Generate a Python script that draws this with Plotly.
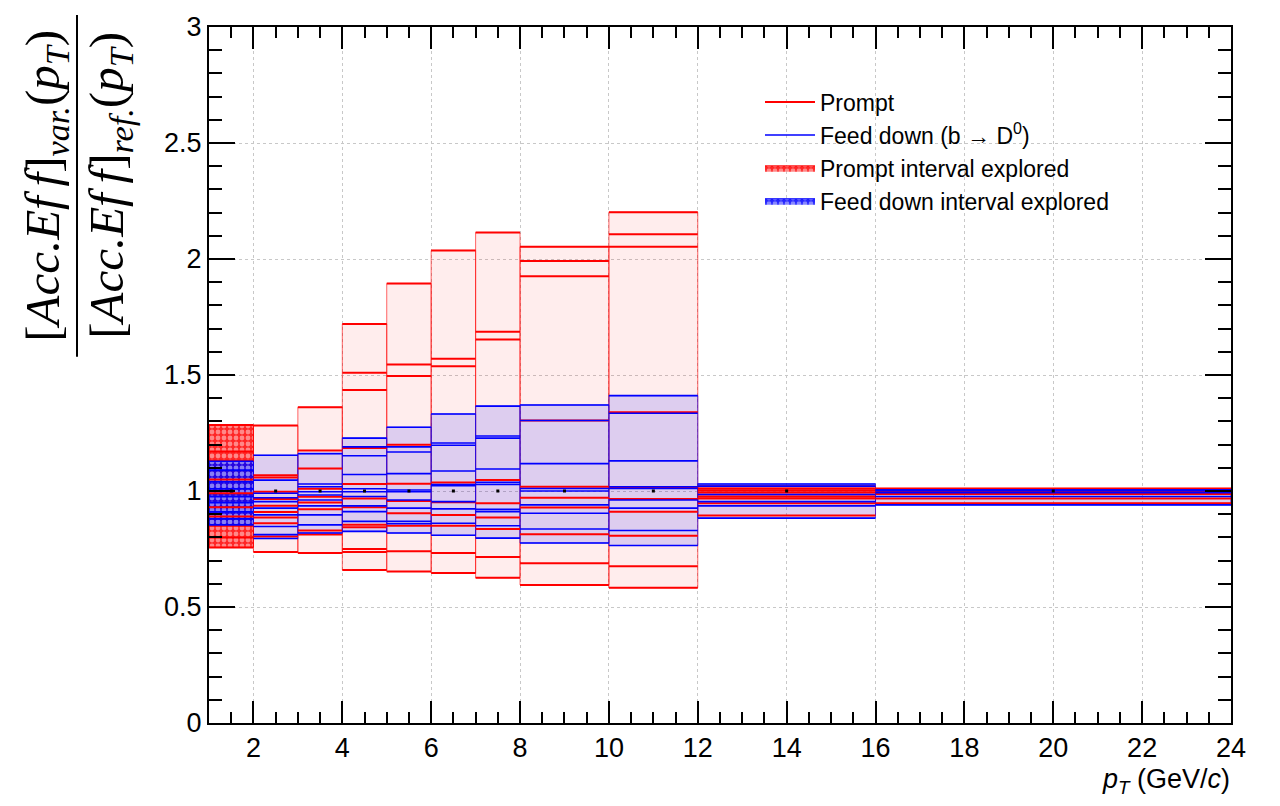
import plotly.graph_objects as go

# ---------------- data ----------------
bin_edges = [1, 2, 3, 4, 5, 6, 7, 8, 10, 12, 16, 24]

prompt_vals = [
    [1.285, 1.17, 1.13, 1.05, 0.99, 0.93, 0.89, 0.85, 0.80, 0.757],
    [1.282, 1.068, 1.058, 0.997, 0.965, 0.936, 0.91, 0.886, 0.861, 0.804, 0.737],
    [1.361, 1.175, 1.097, 1.01, 0.975, 0.95, 0.921, 0.83, 0.812, 0.733],
    [1.720, 1.510, 1.435, 1.185, 1.030, 0.968, 0.930, 0.854, 0.844, 0.750, 0.737, 0.660],
    [1.894, 1.545, 1.496, 1.199, 1.031, 0.957, 0.904, 0.850, 0.740, 0.653],
    [2.037, 1.570, 1.538, 1.037, 0.951, 0.897, 0.850, 0.733, 0.647],
    [2.114, 1.686, 1.653, 1.047, 0.947, 0.886, 0.836, 0.716, 0.626],
    [2.053, 1.991, 1.926, 1.304, 1.018, 0.971, 0.929, 0.814, 0.689, 0.595],
    [2.202, 2.107, 2.053, 1.339, 1.014, 0.966, 0.911, 0.807, 0.676, 0.583],
    [1.020, 1.011, 1.003, 0.995, 0.985, 0.975, 0.968, 0.947, 0.894],
    [1.011, 1.000, 0.987, 0.968, 0.947],
]

feeddown_vals = [
    [1.128, 1.09, 1.04, 1.01, 0.975, 0.95, 0.91, 0.88, 0.854],
    [1.154, 1.047, 0.99, 0.971, 0.954, 0.926, 0.897, 0.847, 0.812, 0.795],
    [1.161, 1.03, 1.018, 0.997, 0.983, 0.961, 0.936, 0.897, 0.854, 0.819],
    [1.228, 1.190, 1.152, 1.071, 1.01, 0.997, 0.976, 0.936, 0.911, 0.869, 0.826],
    [1.275, 1.190, 1.168, 1.075, 1.004, 0.997, 0.961, 0.926, 0.869, 0.859, 0.819],
    [1.332, 1.207, 1.197, 1.086, 1.028, 1.023, 0.954, 0.923, 0.861, 0.809],
    [1.366, 1.237, 1.228, 1.095, 1.037, 1.028, 0.921, 0.911, 0.850, 0.797],
    [1.371, 1.304, 1.118, 1.011, 1.000, 0.940, 0.904, 0.836, 0.776],
    [1.411, 1.335, 1.130, 1.018, 1.011, 0.961, 0.926, 0.830, 0.765],
    [1.030, 1.021, 0.985, 0.954, 0.936, 0.883],
    [1.005, 1.001, 0.993, 0.976, 0.940],
]

reference_value = 1.0

x_ticks = [2, 4, 6, 8, 10, 12, 14, 16, 18, 20, 22, 24]
y_ticks = [0, 0.5, 1, 1.5, 2, 2.5, 3]

# ---------------- helpers ----------------
def segments(vals_per_bin):
    xs, ys = [], []
    for i, vals in enumerate(vals_per_bin):
        lo, hi = bin_edges[i], bin_edges[i + 1]
        for v in vals:
            xs += [lo, hi, None]
            ys += [v, v, None]
    return xs, ys


def boxes(vals_per_bin, idx):
    xs, ys = [], []
    for i in idx:
        vals = vals_per_bin[i]
        lo, hi = bin_edges[i], bin_edges[i + 1]
        vmin, vmax = min(vals), max(vals)
        xs += [lo, hi, hi, lo, lo, None]
        ys += [vmin, vmin, vmax, vmax, vmin, None]
    return xs, ys


RED = "rgb(255,0,0)"
BLUE = "rgb(0,0,255)"

fig = go.Figure()

first = [0]
rest = list(range(1, len(bin_edges) - 1))

# faint interval boxes
px_, py_ = boxes(prompt_vals, rest)
fig.add_trace(go.Scatter(x=px_, y=py_, mode="lines", fill="toself",
                         fillcolor="rgba(255,0,0,0.07)",
                         line=dict(color="rgba(255,0,0,0.6)", width=1),
                         showlegend=False, hoverinfo="skip"))
bx_, by_ = boxes(feeddown_vals, rest)
fig.add_trace(go.Scatter(x=bx_, y=by_, mode="lines", fill="toself",
                         fillcolor="rgba(30,30,255,0.15)",
                         line=dict(color="rgba(0,0,255,0.6)", width=1),
                         showlegend=False, hoverinfo="skip"))

# dense first-bin boxes (also legend entries)
px_, py_ = boxes(prompt_vals, first)
fig.add_trace(go.Scatter(x=px_, y=py_, mode="lines", fill="toself",
                         fillcolor="rgba(255,0,0,0.7)",
                         fillpattern=dict(shape=".", fgcolor="rgba(255,255,255,0.9)",
                                          bgcolor="rgba(255,0,0,0.85)", size=6, solidity=0.5),
                         line=dict(color=RED, width=1),
                         name="Prompt interval explored", legendrank=3))
bx_, by_ = boxes(feeddown_vals, first)
fig.add_trace(go.Scatter(x=bx_, y=by_, mode="lines", fill="toself",
                         fillcolor="rgba(0,0,255,0.7)",
                         fillpattern=dict(shape=".", fgcolor="rgba(255,255,255,0.9)",
                                          bgcolor="rgba(0,0,255,0.85)", size=6, solidity=0.5),
                         line=dict(color=BLUE, width=1),
                         name="Feed down interval explored", legendrank=4))

# variation lines
lx, ly = segments(prompt_vals)
fig.add_trace(go.Scatter(x=lx, y=ly, mode="lines", line=dict(color=RED, width=2),
                         name="Prompt", legendrank=1))
lx, ly = segments(feeddown_vals)
fig.add_trace(go.Scatter(x=lx, y=ly, mode="lines", line=dict(color=BLUE, width=1.6),
                         name="Feed down (b \u2192 D<sup>0</sup>)", legendrank=2))

# reference points
centers = [(bin_edges[i] + bin_edges[i + 1]) / 2 for i in range(len(bin_edges) - 1)]
fig.add_trace(go.Scatter(x=centers, y=[reference_value] * len(centers), mode="markers",
                         marker=dict(symbol="square", size=3, color="black"),
                         showlegend=False, hoverinfo="skip"))

L, R, T, B = 209, 49, 22, 83
W, H = 1280, 806
pw, ph = W - L - R, H - T - B


def xp(px):
    return (px - L) / pw


def yp(py):
    return (H - B - py) / ph


sans = "Liberation Sans, Arial, Helvetica"
axis_common = dict(showline=True, linecolor="black", linewidth=2, mirror="allticks",
                   ticks="inside", tickcolor="black", tickwidth=1.5,
                   showgrid=True, gridcolor="#c8c8c8", griddash="dot", gridwidth=1,
                   zeroline=False,
                   tickfont=dict(family=sans, size=27, color="black"))

fig.update_xaxes(range=[1, 24], tickvals=x_ticks, ticklen=22,
                 minor=dict(dtick=0.5, tick0=0, ticks="inside", ticklen=11,
                            tickcolor="black", tickwidth=1.5, showgrid=False),
                 **axis_common)
fig.update_yaxes(range=[0, 3], tickvals=y_ticks, ticklen=26,
                 minor=dict(dtick=0.1, tick0=0, ticks="inside", ticklen=13,
                            tickcolor="black", tickwidth=1.5, showgrid=False),
                 **axis_common)

serif = "Liberation Serif, Times New Roman, serif"
fig.add_annotation(text="[<i>Acc.Ef\u2009f</i>]<sub><i>var.</i></sub>(<i>p<sub>T</sub></i>)",
                   xref="paper", yref="paper", x=xp(46), y=yp(182), textangle=-90,
                   xanchor="center", yanchor="middle", showarrow=False,
                   font=dict(family=serif, size=49, color="black"))
fig.add_annotation(text="[<i>Acc.Ef\u2009f</i>]<sub><i>ref.</i></sub>(<i>p<sub>T</sub></i>)",
                   xref="paper", yref="paper", x=xp(110), y=yp(182), textangle=-90,
                   xanchor="center", yanchor="middle", showarrow=False,
                   font=dict(family=serif, size=49, color="black"))
fig.add_shape(type="line", xref="paper", yref="paper", x0=xp(77), x1=xp(77),
              y0=yp(10), y1=yp(354), line=dict(color="black", width=2))

fig.add_annotation(text="<i>p</i><sub><i>T</i></sub> (GeV/<i>c</i>)",
                   xref="paper", yref="paper", x=xp(1232), y=yp(781),
                   xanchor="right", yanchor="middle", showarrow=False,
                   font=dict(family=sans, size=27, color="black"))

fig.update_layout(
    width=W, height=H,
    margin=dict(l=L, r=R, t=T, b=B),
    paper_bgcolor="white", plot_bgcolor="white",
    legend=dict(x=xp(760), y=yp(76), xanchor="left", yanchor="top",
                bgcolor="rgba(0,0,0,0)", borderwidth=0,
                font=dict(family=sans, size=23, color="black"),
                itemwidth=50, tracegroupgap=0),
    showlegend=True,
)

fig.write_html("out.html")
